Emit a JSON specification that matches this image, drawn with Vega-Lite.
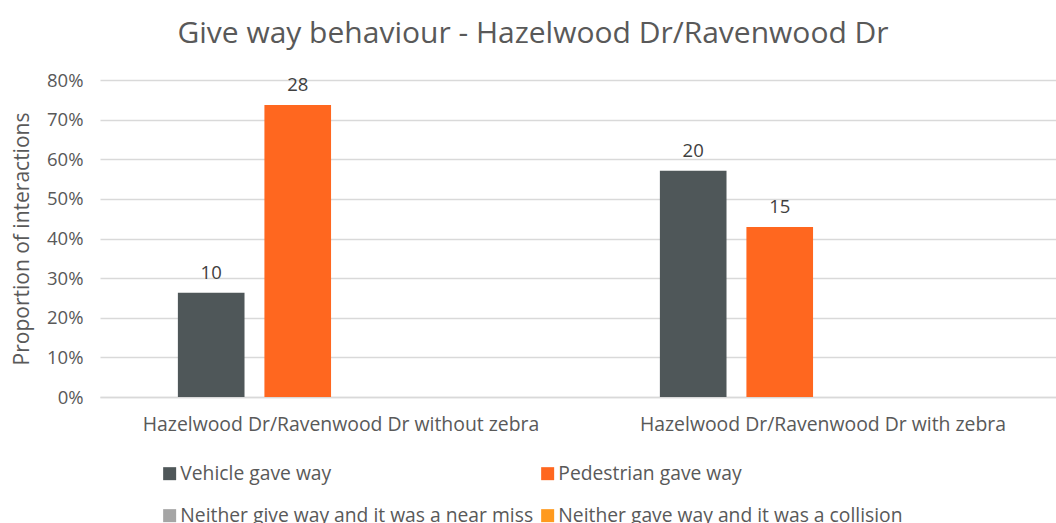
{
  "$schema": "https://vega.github.io/schema/vega-lite/v6.json",
  "width": 964,
  "height": 317,
  "autosize": {"type": "none"},
  "padding": {"left": 100, "top": 80, "right": 0, "bottom": 126},
  "background": "white",
  "config": {"view": {"stroke": null}, "font": "Open Sans"},
  "title": {
    "text": "Give way behaviour - Hazelwood Dr/Ravenwood Dr",
    "anchor": "middle",
    "frame": "group",
    "dx": -49,
    "offset": 22,
    "fontSize": 30,
    "fontWeight": "normal",
    "color": "#595959"
  },
  "data": {
    "values": [
      {"location": "Hazelwood Dr/Ravenwood Dr without zebra", "behaviour": "Vehicle gave way", "proportion": 0.263, "count": 10},
      {"location": "Hazelwood Dr/Ravenwood Dr without zebra", "behaviour": "Pedestrian gave way", "proportion": 0.737, "count": 28},
      {"location": "Hazelwood Dr/Ravenwood Dr with zebra", "behaviour": "Vehicle gave way", "proportion": 0.571, "count": 20},
      {"location": "Hazelwood Dr/Ravenwood Dr with zebra", "behaviour": "Pedestrian gave way", "proportion": 0.429, "count": 15}
    ]
  },
  "encoding": {
    "x": {
      "field": "location",
      "type": "nominal",
      "sort": null,
      "scale": {"paddingInner": 0, "paddingOuter": 0},
      "axis": {
        "title": null,
        "labelAngle": 0,
        "labelFontSize": 19.4,
        "labelColor": "#595959",
        "labelPadding": 18,
        "ticks": false,
        "domainColor": "#D9D9D9",
        "domainWidth": 1.5,
        "labelLimit": 600
      }
    },
    "xOffset": {
      "field": "behaviour",
      "type": "nominal",
      "scale": {
        "domain": ["Vehicle gave way", "Pedestrian gave way", "Neither give way and it was a near miss", "Neither gave way and it was a collision"],
        "paddingInner": 0.23,
        "paddingOuter": 0.9
      }
    },
    "y": {
      "field": "proportion",
      "type": "quantitative",
      "scale": {"domain": [0, 0.8], "nice": false},
      "axis": {
        "title": "Proportion of interactions",
        "titleFontSize": 21,
        "titleFontWeight": "normal",
        "titleColor": "#595959",
        "titlePadding": 14,
        "format": ".0%",
        "values": [0, 0.1, 0.2, 0.3, 0.4, 0.5, 0.6, 0.7, 0.8],
        "labelOverlap": false,
        "labelFontSize": 18.5,
        "labelColor": "#595959",
        "labelPadding": 17,
        "ticks": false,
        "domain": false,
        "gridColor": "#D9D9D9",
        "gridWidth": 1.5
      }
    }
  },
  "layer": [
    {
      "mark": {"type": "bar"},
      "encoding": {
        "color": {
          "field": "behaviour",
          "type": "nominal",
          "scale": {
            "domain": ["Vehicle gave way", "Pedestrian gave way", "Neither give way and it was a near miss", "Neither gave way and it was a collision"],
            "range": ["#4F5759", "#FF671F", "#A5A5A5", "#FF9A1E"]
          },
          "legend": {
            "title": null,
            "orient": "none",
            "legendX": 60,
            "legendY": 384,
            "direction": "horizontal",
            "columns": 2,
            "columnPadding": 4,
            "rowPadding": 22,
            "symbolType": "square",
            "symbolSize": 169,
            "symbolStrokeWidth": 0,
            "symbolOffset": 0,
            "labelOffset": 1,
            "labelFontSize": 19.3,
            "labelColor": "#595959",
            "labelLimit": 500
          }
        }
      }
    },
    {
      "mark": {"type": "text", "baseline": "alphabetic", "dy": -14, "fontSize": 18.5, "color": "#404040"},
      "encoding": {
        "text": {"field": "count", "type": "quantitative"}
      }
    }
  ]
}
